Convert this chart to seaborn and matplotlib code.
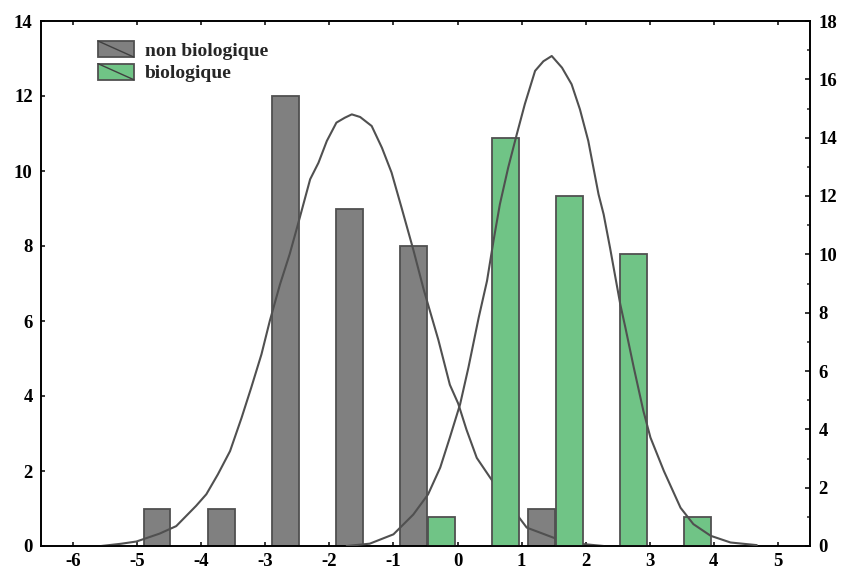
import matplotlib
matplotlib.use("Agg")
import matplotlib.pyplot as plt
import seaborn as sns
import pandas as pd
from matplotlib.patches import Rectangle, Patch
from matplotlib.lines import Line2D
from matplotlib.legend_handler import HandlerBase
from matplotlib.ticker import MultipleLocator

# ---- data ----
series_names = ["non biologique", "biologique"]

gray_x = [-4.69, -3.69, -2.69, -1.69, -0.69, 1.31]
gray_counts = [1, 1, 12, 9, 8, 1]          # left axis

green_x = [-0.25, 0.75, 1.75, 2.75, 3.75]
green_counts = [1, 14, 12, 10, 1]           # right axis

gray_curve_x = [-5.56, -5.25, -5.01, -4.65, -4.39, -4.08, -3.92, -3.74, -3.55, -3.37,
                -3.22, -3.06, -2.93, -2.77, -2.62, -2.49, -2.30, -2.17, -2.04, -1.89,
                -1.76, -1.65, -1.52, -1.34, -1.18, -1.03, -0.87, -0.69, -0.53, -0.30,
                -0.12, 0.01, 0.14, 0.30, 0.51, 0.925, 1.08, 1.50, 1.91, 2.28]
gray_curve_y = [0.0, 0.06, 0.12, 0.33, 0.53, 1.07, 1.38, 1.91, 2.53, 3.42,
                4.22, 5.11, 6.0, 6.98, 7.78, 8.58, 9.78, 10.22, 10.8, 11.29,
                11.42, 11.51, 11.44, 11.2, 10.62, 9.96, 9.0, 7.9, 6.85, 5.5,
                4.3, 3.8, 3.1, 2.35, 1.82, 0.84, 0.49, 0.22, 0.06, 0.0]

green_curve_x = [-1.73, -1.37, -1.0, -0.69, -0.46, -0.27, -0.12, 0.04, 0.17, 0.33,
                 0.46, 0.56, 0.66, 0.79, 0.925, 1.05, 1.21, 1.34, 1.47, 1.63,
                 1.78, 1.91, 2.04, 2.20, 2.28, 2.38, 2.54, 2.62, 2.75, 2.90,
                 3.01, 3.22, 3.48, 3.68, 3.95, 4.26, 4.67]
green_curve_y = [0.0, 0.08, 0.4, 1.08, 1.77, 2.69, 3.72, 4.86, 6.12, 7.83,
                 9.09, 10.45, 11.71, 12.97, 14.12, 15.15, 16.29, 16.62, 16.8, 16.4,
                 15.83, 14.97, 13.89, 12.06, 11.37, 10.22, 8.28, 7.48, 6.12, 4.63,
                 3.72, 2.57, 1.31, 0.75, 0.35, 0.12, 0.03]

x_ticks = list(range(-6, 6))
left_ticks = list(range(0, 15, 2))
right_ticks = list(range(0, 19, 2))

# ---- style ----
sns.set_theme(style="ticks")
plt.rcParams["font.family"] = ["Liberation Serif", "DejaVu Serif"]
plt.rcParams["font.weight"] = "bold"

GRAY = "#808080"
GREEN = "#70C486"
EDGE = "#505050"
CURVE = "#505050"
TICK_FS = 13.5

fig = plt.figure(figsize=(8.45, 5.69), dpi=100)
ax = fig.add_axes([41 / 845, 1 - 546 / 569, (810 - 41) / 845, (546 - 21) / 569])
ax2 = ax.twinx()

gdf = pd.DataFrame({"x": gray_x, "y": gray_counts})
sns.barplot(data=gdf, x="x", y="y", native_scale=True, width=0.42, color=GRAY,
            saturation=1, edgecolor=EDGE, linewidth=1.3, errorbar=None, ax=ax, zorder=2)
sns.lineplot(x=gray_curve_x, y=gray_curve_y, sort=False, estimator=None,
             color=CURVE, linewidth=1.5, ax=ax, zorder=3)

ndf = pd.DataFrame({"x": green_x, "y": green_counts})
sns.barplot(data=ndf, x="x", y="y", native_scale=True, width=0.42, color=GREEN,
            saturation=1, edgecolor=EDGE, linewidth=1.3, errorbar=None, ax=ax2, zorder=2)
sns.lineplot(x=green_curve_x, y=green_curve_y, sort=False, estimator=None,
             color=CURVE, linewidth=1.5, ax=ax2, zorder=3)

for a in (ax, ax2):
    a.set_xlim(-6.5, 5.5)
    a.set_xlabel("")
    a.set_ylabel("")
    for s in a.spines.values():
        s.set_linewidth(1.2)
        s.set_color("black")
        s.set_visible(True)

ax.set_ylim(0, 14)
ax2.set_ylim(0, 18)
ax.set_xticks(x_ticks)
ax.set_xticklabels([str(t) for t in x_ticks])
ax.set_yticks(left_ticks)
ax.set_yticklabels([str(t) for t in left_ticks])
ax2.set_yticks(right_ticks)
ax2.set_yticklabels([str(t) for t in right_ticks])
ax2.yaxis.set_minor_locator(MultipleLocator(1))

ax.tick_params(axis="x", direction="in", top=True, bottom=True, length=3, width=1.1,
               labelsize=TICK_FS, pad=5, colors="black")
ax.tick_params(axis="y", direction="in", left=True, right=False, length=3, width=1.1,
               labelsize=TICK_FS, pad=6, colors="black")
ax2.tick_params(axis="y", which="major", direction="in", right=True, left=False,
                length=3.5, width=1.1, labelsize=TICK_FS, pad=6, colors="black")
ax2.tick_params(axis="y", which="minor", direction="in", right=True, left=False,
                length=2.5, width=1.1)
ax2.tick_params(axis="x", which="both", top=False, bottom=False, labeltop=False, labelbottom=False)
for lab in ax.get_xticklabels() + ax.get_yticklabels() + ax2.get_yticklabels():
    lab.set_fontweight("bold")


class DiagHandler(HandlerBase):
    def create_artists(self, legend, orig_handle, xdescent, ydescent, width, height,
                       fontsize, trans):
        r = Rectangle((-xdescent, -ydescent), width, height,
                      facecolor=orig_handle.get_facecolor(), edgecolor=EDGE,
                      linewidth=1.3, transform=trans)
        ln = Line2D([-xdescent, -xdescent + width], [-ydescent + height, -ydescent],
                    color="#404040", linewidth=1.0, transform=trans)
        return [r, ln]


handles = [Patch(facecolor=GRAY), Patch(facecolor=GREEN)]
leg = ax2.legend(handles, series_names, handler_map={Patch: DiagHandler()},
                 loc="upper left", bbox_to_anchor=(0.074, 0.962), frameon=False,
                 borderaxespad=0, borderpad=0, handlelength=1.85, handleheight=0.9,
                 handletextpad=0.55, labelspacing=0.2,
                 prop={"family": ["Liberation Serif"], "weight": "bold", "size": 14})

fig.savefig("out.png", dpi=100)
